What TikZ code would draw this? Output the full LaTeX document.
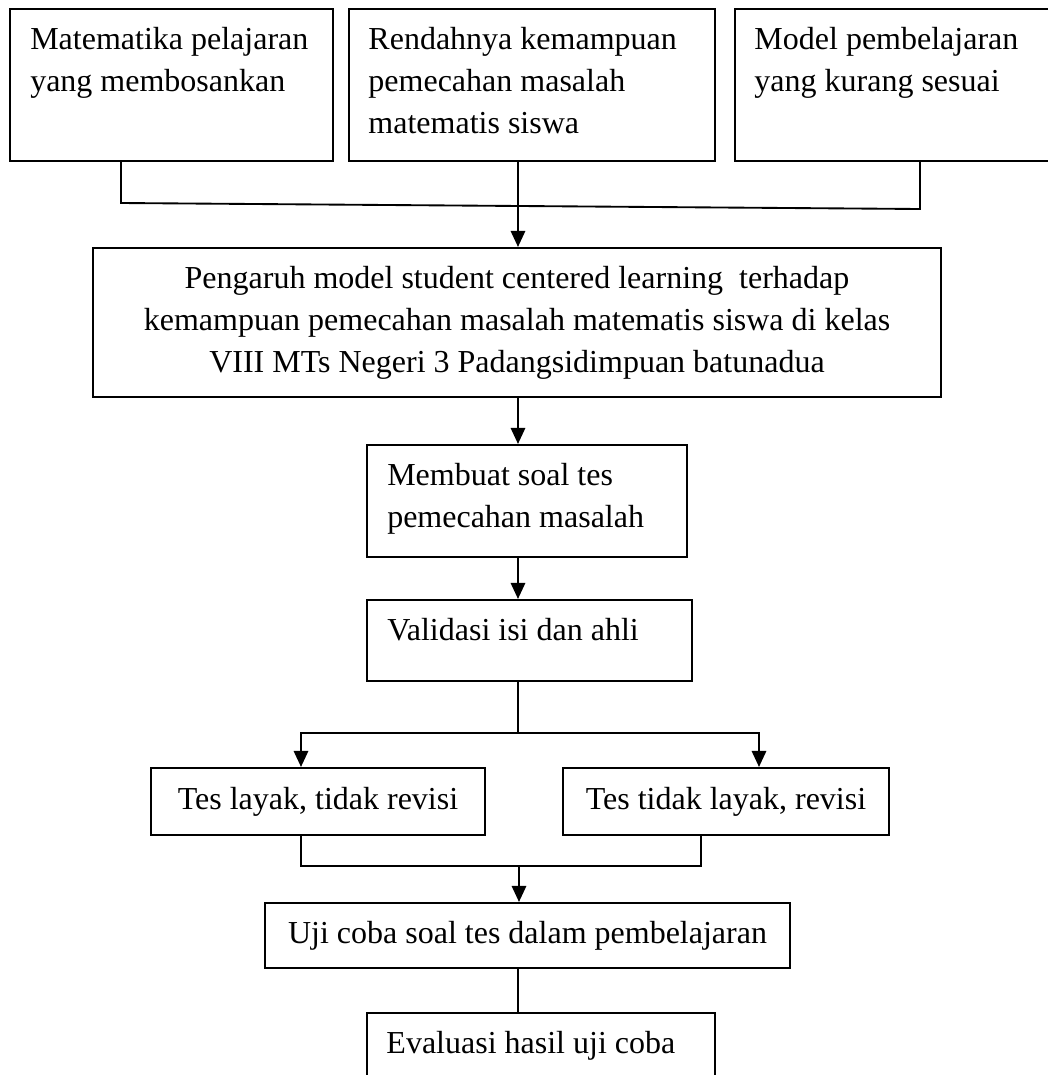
\documentclass[tikz,border=0pt]{standalone}
\usepackage{fontspec}
\setmainfont{Liberation Serif}
\usetikzlibrary{arrows.meta, positioning, calc}
\newlength\pxu
\setlength\pxu{0.375pt}
\tikzset{
    flowbox/.style 2 args={draw, line width=0.8pt, minimum width=#1\pxu, minimum height=#2\pxu, inner sep=0pt, align=center, font=\fontsize{12}{15.75}\selectfont},
    boxlabel/.style={inner sep=0pt, align=left, font=\fontsize{12}{15.75}\selectfont},
    flowlink/.style={line width=0.7pt},
    flowarrow/.style={-{Triangle[length=6pt,width=5.4pt]}, line width=0.7pt}
}

\begin{document}
\begin{tikzpicture}[x=0.375pt, y=-0.375pt]
    \useasboundingbox (0,0) rectangle (1047,1075);

    % Problem boxes
    \node[flowbox={323}{152}] (b1) at (171.5,85) {};
    \node[flowbox={366}{152}] (b2) at (532,85) {};
    \node[flowbox={325}{152}] (b3) at (897.5,85) {};
    \node[boxlabel, below right=4.35pt and 7.8pt of b1.north west] {\strut Matematika pelajaran\\yang membosankan};
    \node[boxlabel, below right=4.35pt and 7.5pt of b2.north west] {\strut Rendahnya kemampuan\\pemecahan masalah\\matematis siswa};
    \node[boxlabel, below right=4.35pt and 7.5pt of b3.north west] {\strut Model pembelajaran\\yang kurang sesuai};

    % Research steps
    \node[flowbox={848}{149}] (b4) at (517,322.5) {Pengaruh model student centered learning~ terhadap\\kemampuan pemecahan masalah matematis siswa di kelas\\VIII MTs Negeri 3 Padangsidimpuan batunadua};
    \node[flowbox={320}{112}] (b5) at (527,501) {};
    \node[boxlabel, below right=4.35pt and 7.8pt of b5.north west] {\strut Membuat soal tes\\pemecahan masalah};
    \node[flowbox={325}{81}] (b6) at (529.5,640.5) {};
    \node[boxlabel, below right=4.35pt and 7.8pt of b6.north west] {\strut Validasi isi dan ahli};
    \node[flowbox={334}{67}] (b7) at (318,801.5) {Tes layak, tidak revisi};
    \node[flowbox={326}{67}] (b8) at (726,801.5) {Tes tidak layak, revisi};
    \node[flowbox={525}{65}] (b9) at (527.5,935.5) {\raisebox{-3pt}{Uji coba soal tes dalam pembelajaran}};
    \node[flowbox={348}{87}] (b10) at (541,1056.5) {};
    \node[boxlabel, below right=4.35pt and 7.5pt of b10.north west] {\strut Evaluasi hasil uji coba};

    % Junction points
    \coordinate (j1) at (121,203);
    \coordinate (j3) at (920,209);
    \coordinate (spine) at (518,0);
    \coordinate (split) at (518,733);
    \coordinate (sl) at (301,733);
    \coordinate (sr) at (759,733);
    \coordinate (ml) at (301,866);
    \coordinate (mr) at (701,866);
    \coordinate (merge) at (519,866);

    % Connectors
    \draw[flowlink] (b1.south -| j1) -- (j1) -- (j3) -- (b3.south -| j3);
    \draw[flowarrow] (b2.south -| spine) -- (b4.north -| spine);
    \draw[flowarrow] (b4.south -| spine) -- (b5.north -| spine);
    \draw[flowarrow] (b5.south -| spine) -- (b6.north -| spine);
    \draw[flowlink] (b6.south -| split) -- (split);
    \draw[flowarrow] (split) -- (sl) -- (b7.north -| sl);
    \draw[flowarrow] (split) -- (sr) -- (b8.north -| sr);
    \draw[flowlink] (b7.south -| ml) -- (ml) -- (mr) -- (b8.south -| mr);
    \draw[flowarrow] (merge) -- (b9.north -| merge);
    \draw[flowlink] (b9.south -| spine) -- (b10.north -| spine);
\end{tikzpicture}
\end{document}
